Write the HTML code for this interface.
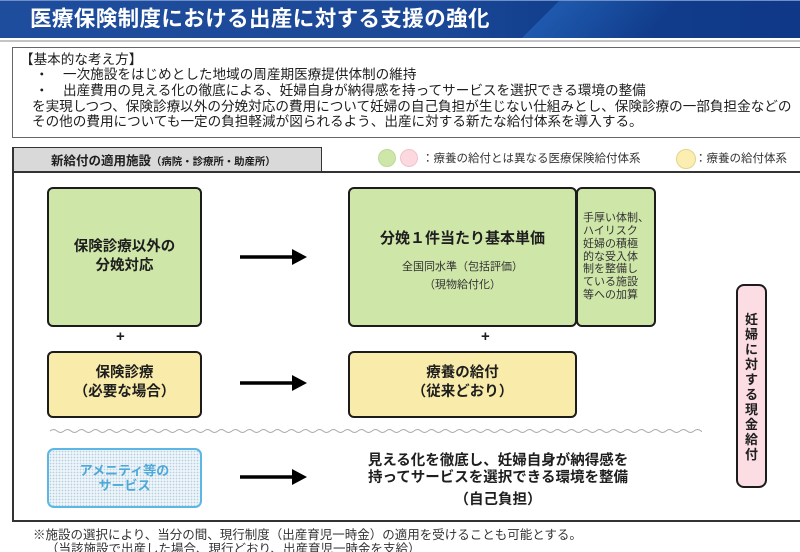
<!DOCTYPE html>
<html lang="ja">
<head>
<meta charset="utf-8">
<style>
  html,body{margin:0;padding:0;background:#fff;}
  #wrap{position:relative;width:800px;height:552px;overflow:hidden;background:#fff;
    font-family:"Liberation Sans","Noto Sans CJK JP",sans-serif;color:#1e1e1e;}
  .abs{position:absolute;white-space:nowrap;}
  .box{position:absolute;box-sizing:border-box;border:2px solid #1c1c1c;border-radius:6px;
    display:flex;align-items:center;justify-content:center;text-align:center;}
  .green{background:#cfe6a9;}
  .yellow{background:#f9ecab;}
  .b{font-weight:bold;}
</style>
</head>
<body>
<div id="wrap">

  <!-- header -->
  <div class="abs" style="left:0;top:0;width:800px;height:38px;background:linear-gradient(90deg,#1f4d9d 0%,#1b4897 55%,#13408e 68%,#0f3888 100%);overflow:hidden;">
    <div style="position:absolute;left:540px;top:-5px;width:120px;height:50px;background:linear-gradient(90deg,rgba(40,110,200,0.55),rgba(40,110,200,0));transform:skewX(-45deg);"></div>
  </div>
  <div class="abs" style="left:0;top:0;width:800px;height:1px;background:#6f8fc8;"></div>
  <div class="abs b" style="left:30px;top:0;height:38px;line-height:38px;font-size:21.5px;letter-spacing:0.4px;color:#fff;">医療保険制度における出産に対する支援の強化</div>
  <div class="abs" style="left:0;top:40px;width:800px;height:2px;background:#c4c4c4;"></div>

  <!-- basic concept box -->
  <div class="abs" style="left:12px;top:47px;width:800px;height:91px;box-sizing:border-box;border:1px solid #666;"></div>
  <div class="abs" style="left:20px;top:52px;font-size:13.6px;line-height:15.5px;">【基本的な考え方】</div>
  <div class="abs" style="left:35px;top:67px;font-size:13.6px;line-height:15.5px;">・</div>
  <div class="abs" style="left:63px;top:67px;font-size:13.6px;line-height:15.5px;">一次施設をはじめとした地域の周産期医療提供体制の維持</div>
  <div class="abs" style="left:35px;top:83px;font-size:13.6px;line-height:15.5px;">・</div>
  <div class="abs" style="left:63px;top:83px;font-size:13.6px;line-height:15.5px;">出産費用の見える化の徹底による、妊婦自身が納得感を持ってサービスを選択できる環境の整備</div>
  <div class="abs" style="left:32px;top:99px;font-size:13.6px;line-height:15.5px;">を実現しつつ、保険診療以外の分娩対応の費用について妊婦の自己負担が生じない仕組みとし、保険診療の一部負担金などの</div>
  <div class="abs" style="left:32px;top:114px;font-size:13.6px;line-height:15.5px;">その他の費用についても一定の負担軽減が図られるよう、出産に対する新たな給付体系を導入する。</div>

  <!-- section header tab -->
  <div class="abs" style="left:13px;top:147px;width:309px;height:26px;box-sizing:border-box;background:#d9d9d9;border:1.5px solid #333;border-bottom:none;"></div>
  <div class="abs b" style="left:51px;top:152px;line-height:18px;font-size:12.5px;">新給付の適用施設<span style="font-size:10.4px;">（病院・診療所・助産所）</span></div>

  <!-- frame lines -->
  <div class="abs" style="left:13px;top:171px;width:800px;height:2px;background:#333;"></div>
  <div class="abs" style="left:12px;top:147px;width:2px;height:375px;background:#333;"></div>
  <div class="abs" style="left:12px;top:520px;width:800px;height:2px;background:#333;"></div>

  <!-- legend text -->
  <div class="abs" style="left:422px;top:151px;font-size:11.5px;line-height:16px;color:#333;">：療養の給付とは異なる医療保険給付体系</div>
  <div class="abs" style="left:695px;top:151px;font-size:11.5px;line-height:16px;color:#333;">：療養の給付体系</div>

  <!-- row 1 -->
  <div class="box green b" style="left:47px;top:187px;width:155px;height:140px;font-size:14.5px;line-height:19px;">保険診療以外の<br>分娩対応</div>
  <div class="box green" style="left:348px;top:187px;width:229px;height:140px;"></div>
  <div class="abs b" style="left:348px;top:229px;width:229px;text-align:center;font-size:15px;line-height:20px;">分娩１件当たり基本単価</div>
  <div class="abs" style="left:348px;top:259px;width:229px;text-align:center;font-size:11px;line-height:16px;color:#333;">全国同水準（包括評価）</div>
  <div class="abs" style="left:348px;top:277px;width:229px;text-align:center;font-size:11px;line-height:16px;color:#333;">（現物給付化）</div>
  <div class="box green" style="left:576px;top:187px;width:80px;height:140px;font-size:11px;line-height:12.8px;color:#333;text-align:left;">手厚い体制、<br>ハイリスク<br>妊婦の積極<br>的な受入体<br>制を整備し<br>ている施設<br>等への加算</div>

  <div class="abs b" style="left:116px;top:329px;font-size:15px;line-height:16px;">+</div>
  <div class="abs b" style="left:481px;top:329px;font-size:15px;line-height:16px;">+</div>

  <!-- row 2 -->
  <div class="box yellow b" style="left:47px;top:351px;width:155px;height:67px;font-size:14.5px;line-height:19px;padding-bottom:4px;">保険診療<br>（必要な場合）</div>
  <div class="box yellow b" style="left:348px;top:351px;width:229px;height:67px;font-size:14.5px;line-height:19px;padding-bottom:4px;">療養の給付<br>（従来どおり）</div>

  <!-- amenity box -->
  <div class="box b" style="left:47px;top:448px;width:155px;height:60px;border:2.5px solid #5db7e4;border-radius:7px;background-color:#eef5fa;background-image:radial-gradient(circle,#b5cfdf 0.7px,transparent 0.9px);background-size:3px 3px;font-size:13px;line-height:15px;color:#4ea9d9;">アメニティ等の<br>サービス</div>

  <!-- self-pay text -->
  <div class="abs b" style="left:348px;top:453px;width:300px;text-align:center;font-size:14.5px;line-height:16.5px;">見える化を徹底し、妊婦自身が納得感を<br>持ってサービスを選択できる環境を整備</div>
  <div class="abs b" style="left:448px;top:491px;width:100px;text-align:center;font-size:14.5px;line-height:18px;">（自己負担）</div>

  <!-- pink vertical box -->
  <div class="abs" style="left:736px;top:284px;width:31px;height:204px;box-sizing:border-box;border:2px solid #1c1c1c;border-radius:8px;background:#fbdde3;"></div>
  <div class="abs b" style="left:736px;top:312px;width:31px;text-align:center;font-size:13px;line-height:15px;">妊<br>婦<br>に<br>対<br>す<br>る<br>現<br>金<br>給<br>付</div>

  <!-- footnote -->
  <div class="abs" style="left:33px;top:527px;font-size:12.5px;line-height:16px;color:#333;">※施設の選択により、当分の間、現行制度（出産育児一時金）の適用を受けることも可能とする。</div>
  <div class="abs" style="left:46px;top:541px;font-size:12.5px;line-height:16px;color:#333;">（当該施設で出産した場合、現行どおり、出産育児一時金を支給）</div>

  <!-- svg overlay -->
  <svg class="abs" style="left:0;top:0;" width="800" height="552" viewBox="0 0 800 552">
    <defs>
      <pattern id="wave" x="50" y="428" width="14" height="6" patternUnits="userSpaceOnUse">
        <path d="M0 3 q3.5 -3 7 0 t7 0" fill="none" stroke="#a8a8a8" stroke-width="1"/>
      </pattern>
    </defs>
    <!-- legend circles -->
    <circle cx="387" cy="158" r="8.5" fill="#cfe6a9" stroke="#bcd99a" stroke-width="1"/>
    <circle cx="409" cy="158" r="8.5" fill="#fbd9df" stroke="#efc4cc" stroke-width="1"/>
    <circle cx="686" cy="159" r="9.5" fill="#fbeeb0" stroke="#e3d38a" stroke-width="1"/>
    <!-- arrows -->
    <g fill="#000" stroke="#000">
      <line x1="240" y1="257" x2="294" y2="257" stroke-width="3.5"/>
      <polygon points="292,249 307,257 292,265" stroke="none"/>
      <line x1="240" y1="383" x2="294" y2="383" stroke-width="3.5"/>
      <polygon points="292,375 307,383 292,391" stroke="none"/>
      <line x1="240" y1="477" x2="294" y2="477" stroke-width="3.5"/>
      <polygon points="292,469 307,477 292,485" stroke="none"/>
    </g>
    <!-- wavy separator -->
    <rect x="50" y="428" width="652" height="6" fill="url(#wave)"/>
  </svg>

</div>
</body>
</html>
